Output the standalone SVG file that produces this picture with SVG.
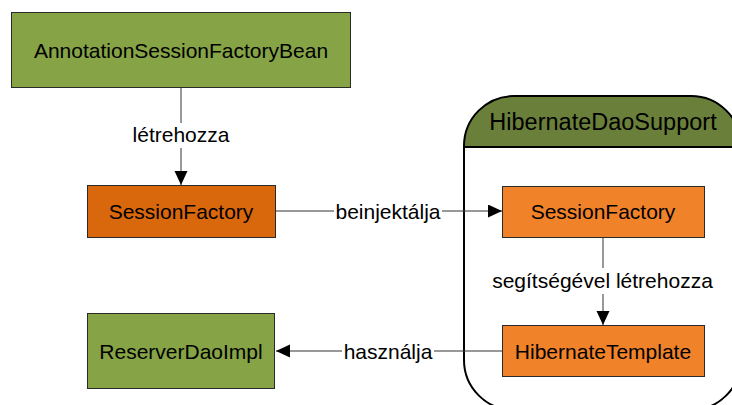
<svg xmlns="http://www.w3.org/2000/svg" width="732" height="405" viewBox="0 0 732 405">
  <defs>
    <marker id="arrow" markerUnits="userSpaceOnUse" markerWidth="15" markerHeight="14" refX="14" refY="6.5" orient="auto">
      <path d="M0,0 L14,6.5 L0,13 z" fill="#000"/>
    </marker>
    <clipPath id="headerClip">
      <rect x="0" y="0" width="760" height="147"/>
    </clipPath>
  </defs>
  <style>
    text { font-family: "Liberation Sans", Arial, sans-serif; fill: #000; text-anchor: middle; }
    .node { stroke: #2a2a2a; stroke-width: 1; }
    .green { fill: #86a346; }
    .darkorange { fill: #d9670c; }
    .orange { fill: #f0822a; }
    .label { font-size: 21px; }
    .edge { stroke: #333; stroke-width: 1; fill: none; }
    .edgebg { fill: #fff; }
  </style>

  <rect x="0" y="0" width="732" height="405" fill="#fff"/>

  <!-- HibernateDaoSupport container -->
  <g id="hibernateDaoSupport">
    <rect x="464" y="96" width="277" height="314" rx="50" ry="50" fill="#fff" stroke="none"/>
    <rect x="464" y="96" width="277" height="314" rx="50" ry="50" fill="#6a7f3a" clip-path="url(#headerClip)"/>
    <rect x="464" y="96" width="277" height="314" rx="50" ry="50" fill="none" stroke="#000" stroke-width="2"/>
    <line x1="464" y1="147" x2="741" y2="147" stroke="#000" stroke-width="2"/>
    <text x="603" y="130" style="font-size:23.5px">HibernateDaoSupport</text>
  </g>

  <!-- connectors -->
  <g id="connectors">
    <line class="edge" x1="181" y1="88" x2="181" y2="185" marker-end="url(#arrow)"/>
    <rect class="edgebg" x="132" y="123" width="98" height="25"/>
    <text class="label" x="181" y="142">létrehozza</text>

    <line class="edge" x1="276" y1="211" x2="502" y2="211" marker-end="url(#arrow)"/>
    <rect class="edgebg" x="334" y="199" width="108" height="25"/>
    <text class="label" x="388" y="219">beinjektálja</text>

    <line class="edge" x1="603" y1="238" x2="603" y2="325" marker-end="url(#arrow)"/>
    <rect class="edgebg" x="490" y="268" width="226" height="26"/>
    <text class="label" x="602.5" y="288">segítségével létrehozza</text>

    <line class="edge" x1="502" y1="351" x2="276" y2="351" marker-end="url(#arrow)"/>
    <rect class="edgebg" x="342" y="339" width="92" height="25"/>
    <text class="label" x="388" y="359">használja</text>
  </g>

  <g id="annotationSessionFactoryBean">
    <rect class="node green" x="11.5" y="12.5" width="339" height="75"/>
    <text class="label" x="181" y="57.5">AnnotationSessionFactoryBean</text>
  </g>

  <g id="sessionFactory">
    <rect class="node darkorange" x="87.5" y="185.5" width="188" height="52"/>
    <text class="label" x="181" y="219">SessionFactory</text>
  </g>

  <g id="sessionFactoryInner">
    <rect class="node orange" x="502.5" y="186.5" width="202" height="51"/>
    <text class="label" x="603" y="219">SessionFactory</text>
  </g>

  <g id="hibernateTemplate">
    <rect class="node orange" x="502.5" y="325.5" width="202" height="51"/>
    <text class="label" x="603" y="359">HibernateTemplate</text>
  </g>

  <g id="reserverDaoImpl">
    <rect class="node green" x="87.5" y="313.5" width="187" height="75"/>
    <text class="label" x="181" y="359">ReserverDaoImpl</text>
  </g>
</svg>
